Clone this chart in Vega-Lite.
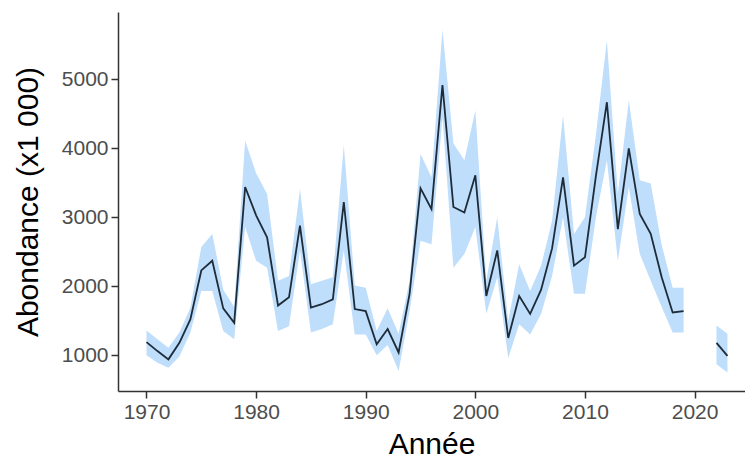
{
  "$schema": "https://vega.github.io/schema/vega-lite/v6.json",
  "width": 627,
  "height": 379,
  "autosize": "none",
  "padding": {"left": 118, "top": 12, "right": 0, "bottom": 72},
  "background": "white",
  "config": {"view": {"stroke": null}, "font": "Liberation Sans"},
  "data": {"values": [
    {"year": 1970, "v": 1190, "lo": 1000, "hi": 1360, "seg": 1},
    {"year": 1971, "v": 1060, "lo": 890, "hi": 1230, "seg": 1},
    {"year": 1972, "v": 940, "lo": 820, "hi": 1110, "seg": 1},
    {"year": 1973, "v": 1180, "lo": 980, "hi": 1330, "seg": 1},
    {"year": 1974, "v": 1520, "lo": 1330, "hi": 1690, "seg": 1},
    {"year": 1975, "v": 2230, "lo": 1930, "hi": 2570, "seg": 1},
    {"year": 1976, "v": 2370, "lo": 1930, "hi": 2760, "seg": 1},
    {"year": 1977, "v": 1680, "lo": 1350, "hi": 1950, "seg": 1},
    {"year": 1978, "v": 1470, "lo": 1230, "hi": 1700, "seg": 1},
    {"year": 1979, "v": 3440, "lo": 2860, "hi": 4110, "seg": 1},
    {"year": 1980, "v": 3030, "lo": 2370, "hi": 3640, "seg": 1},
    {"year": 1981, "v": 2710, "lo": 2270, "hi": 3340, "seg": 1},
    {"year": 1982, "v": 1720, "lo": 1350, "hi": 2080, "seg": 1},
    {"year": 1983, "v": 1840, "lo": 1420, "hi": 2150, "seg": 1},
    {"year": 1984, "v": 2880, "lo": 2520, "hi": 3410, "seg": 1},
    {"year": 1985, "v": 1690, "lo": 1330, "hi": 2030, "seg": 1},
    {"year": 1986, "v": 1740, "lo": 1380, "hi": 2080, "seg": 1},
    {"year": 1987, "v": 1810, "lo": 1450, "hi": 2130, "seg": 1},
    {"year": 1988, "v": 3220, "lo": 2520, "hi": 4050, "seg": 1},
    {"year": 1989, "v": 1670, "lo": 1300, "hi": 2010, "seg": 1},
    {"year": 1990, "v": 1640, "lo": 1300, "hi": 1980, "seg": 1},
    {"year": 1991, "v": 1160, "lo": 1000, "hi": 1350, "seg": 1},
    {"year": 1992, "v": 1380, "lo": 1150, "hi": 1680, "seg": 1},
    {"year": 1993, "v": 1040, "lo": 770, "hi": 1310, "seg": 1},
    {"year": 1994, "v": 1890, "lo": 1640, "hi": 2080, "seg": 1},
    {"year": 1995, "v": 3420, "lo": 2660, "hi": 3920, "seg": 1},
    {"year": 1996, "v": 3120, "lo": 2610, "hi": 3580, "seg": 1},
    {"year": 1997, "v": 4920, "lo": 4450, "hi": 5720, "seg": 1},
    {"year": 1998, "v": 3150, "lo": 2270, "hi": 4070, "seg": 1},
    {"year": 1999, "v": 3070, "lo": 2470, "hi": 3830, "seg": 1},
    {"year": 2000, "v": 3610, "lo": 2860, "hi": 4550, "seg": 1},
    {"year": 2001, "v": 1860, "lo": 1600, "hi": 2080, "seg": 1},
    {"year": 2002, "v": 2520, "lo": 2130, "hi": 3000, "seg": 1},
    {"year": 2003, "v": 1250, "lo": 960, "hi": 1500, "seg": 1},
    {"year": 2004, "v": 1860, "lo": 1450, "hi": 2320, "seg": 1},
    {"year": 2005, "v": 1600, "lo": 1300, "hi": 1930, "seg": 1},
    {"year": 2006, "v": 1950, "lo": 1600, "hi": 2300, "seg": 1},
    {"year": 2007, "v": 2550, "lo": 2150, "hi": 2950, "seg": 1},
    {"year": 2008, "v": 3580, "lo": 3000, "hi": 4480, "seg": 1},
    {"year": 2009, "v": 2300, "lo": 1890, "hi": 2760, "seg": 1},
    {"year": 2010, "v": 2420, "lo": 1890, "hi": 3000, "seg": 1},
    {"year": 2011, "v": 3600, "lo": 3000, "hi": 4200, "seg": 1},
    {"year": 2012, "v": 4670, "lo": 3830, "hi": 5570, "seg": 1},
    {"year": 2013, "v": 2830, "lo": 2370, "hi": 3340, "seg": 1},
    {"year": 2014, "v": 4000, "lo": 3440, "hi": 4700, "seg": 1},
    {"year": 2015, "v": 3050, "lo": 2470, "hi": 3540, "seg": 1},
    {"year": 2016, "v": 2760, "lo": 2080, "hi": 3490, "seg": 1},
    {"year": 2017, "v": 2130, "lo": 1700, "hi": 2600, "seg": 1},
    {"year": 2018, "v": 1620, "lo": 1330, "hi": 1980, "seg": 1},
    {"year": 2019, "v": 1640, "lo": 1330, "hi": 1980, "seg": 1},
    {"year": 2022, "v": 1180, "lo": 870, "hi": 1430, "seg": 2},
    {"year": 2023, "v": 990, "lo": 750, "hi": 1310, "seg": 2}
  ]},
  "encoding": {
    "x": {
      "field": "year", "type": "quantitative",
      "scale": {"domain": [1967.4, 2024.6], "nice": false, "zero": false},
      "axis": {
        "values": [1970, 1980, 1990, 2000, 2010, 2020], "format": "d",
        "grid": false, "labelFontSize": 21, "labelColor": "#4D4D4D",
        "tickSize": 7, "tickColor": "#333333", "tickWidth": 1.5,
        "domainColor": "#333333", "domainWidth": 1.5,
        "labelPadding": 3, "title": "Année", "titleFontSize": 30,
        "titleFontWeight": "normal", "titleColor": "#000000", "titlePadding": 7
      }
    }
  },
  "layer": [
    {
      "mark": {"type": "area", "color": "#BEDEFB", "opacity": 1},
      "encoding": {
        "y": {
          "field": "lo", "type": "quantitative",
          "scale": {"domain": [481, 5979], "nice": false, "zero": false},
          "axis": {
            "values": [1000, 2000, 3000, 4000, 5000], "format": "d",
            "grid": false, "labelFontSize": 21, "labelColor": "#4D4D4D",
            "tickSize": 7, "tickColor": "#333333", "tickWidth": 1.5,
            "domainColor": "#333333", "domainWidth": 1.5,
            "labelPadding": 3, "title": "Abondance (x1 000)", "titleFontSize": 30,
            "titleFontWeight": "normal", "titleColor": "#000000", "titlePadding": 18
          }
        },
        "y2": {"field": "hi"},
        "detail": {"field": "seg"}
      }
    },
    {
      "mark": {"type": "line", "color": "#1E2B38", "strokeWidth": 1.8},
      "encoding": {
        "y": {"field": "v", "type": "quantitative"},
        "detail": {"field": "seg"}
      }
    }
  ]
}
